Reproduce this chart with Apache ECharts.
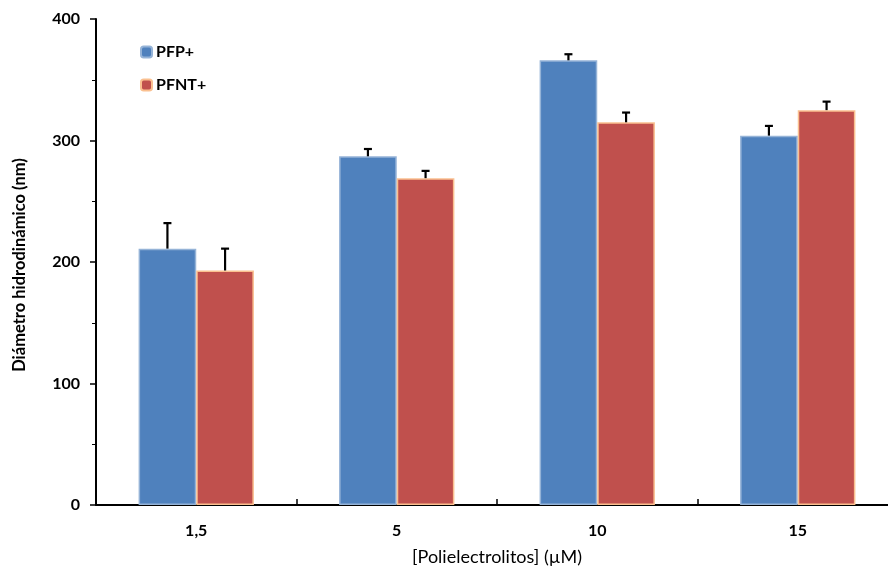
<!DOCTYPE html>
<html>
<head>
<meta charset="utf-8">
<script src="https://cdn.jsdelivr.net/npm/echarts@6/dist/echarts.min.js"></script>
<style>
  html, body { margin: 0; padding: 0; background: #fff; }
  #chart { width: 888px; height: 566px; }
</style>
</head>
<body>
<div id="chart"></div>
<script>
// Hydrodynamic diameter of polyelectrolyte aggregates vs concentration
const categories = ['1,5', '5', '10', '15'];
const pfpValues = [211, 287, 366, 304];
const pfpErrors = [21, 6, 5, 8];
const pfntValues = [193, 269, 315, 325];
const pfntErrors = [18, 6, 8, 7];
const yTicks = [0, 100, 200, 300, 400];
const xTitle = '[Polielectrolitos] (µM)';
const yTitle = 'Diámetro hidrodinámico (nm)';

const FONT = 'Lato';
const BAR_FRAC = 0.2875;   // bar width as a fraction of the category band

const chart = echarts.init(document.getElementById('chart'), null, { renderer: 'canvas' });

// Upward-only error whiskers, placed over the matching bar of each group
function errorSeries(name, values, errors, side) {
  return {
    type: 'custom',
    name: name + ' err',
    z: 5,
    data: values.map((v, i) => [i, v, v + errors[i]]),
    renderItem: function (params, api) {
      const band = api.size([1, 0])[0];
      const bw = band * BAR_FRAC;
      const base = api.coord([api.value(0), api.value(1)]);
      const top = api.coord([api.value(0), api.value(2)]);
      const x = base[0] + side * bw / 2;
      const cap = 4;
      const style = { stroke: '#000', lineWidth: 2.2 };
      return {
        type: 'group',
        children: [
          { type: 'line', shape: { x1: x, y1: base[1], x2: x, y2: top[1] }, style: style },
          { type: 'line', shape: { x1: x - cap, y1: top[1], x2: x + cap, y2: top[1] }, style: style }
        ]
      };
    }
  };
}

chart.setOption({
  backgroundColor: '#ffffff',
  animation: false,
  grid: {
    left: 96, top: 19, width: 802, height: 486,
    containLabel: false, outerBoundsMode: 'none'
  },
  legend: {
    left: 140, top: 44, padding: 0, orient: 'vertical', itemGap: 17,
    itemWidth: 11, itemHeight: 11,
    data: ['PFP+', 'PFNT+'],
    textStyle: { fontFamily: FONT, fontWeight: 'bold', fontSize: 16, color: '#000', padding: [0, 0, 0, -1] }
  },
  // Rotated y-axis title
  graphic: [{
    type: 'text',
    x: 20, y: 265, rotation: Math.PI / 2,
    style: {
      text: yTitle, fontFamily: FONT, fontWeight: 'bold', fontSize: 16.5, fill: '#000',
      align: 'center', verticalAlign: 'middle'
    }
  }],
  xAxis: {
    type: 'category',
    data: categories,
    name: xTitle,
    nameLocation: 'middle',
    nameGap: 43,
    nameTextStyle: { fontFamily: FONT, fontSize: 18, color: '#000' },
    axisLine: { lineStyle: { color: '#000', width: 2 } },
    axisTick: { show: true, inside: true, length: 6, lineStyle: { color: '#000', width: 1.5 } },
    axisLabel: { fontFamily: FONT, fontWeight: 'bold', fontSize: 16, color: '#000', margin: 18 }
  },
  yAxis: {
    type: 'value',
    min: yTicks[0], max: yTicks[yTicks.length - 1], interval: 100,
    axisLine: { show: true, lineStyle: { color: '#000', width: 2 } },
    axisTick: { show: true, length: 6, lineStyle: { color: '#000', width: 1.5 } },
    minorTick: { show: true, splitNumber: 2, length: 4, lineStyle: { color: '#000', width: 1 } },
    splitLine: { show: false },
    axisLabel: { fontFamily: FONT, fontWeight: 'bold', fontSize: 16, color: '#000', margin: 16 }
  },
  series: [
    {
      name: 'PFP+', type: 'bar', data: pfpValues,
      barGap: '0%', barCategoryGap: '42.5%',
      itemStyle: { color: '#4F81BD', borderColor: '#95B3D7', borderWidth: 1.5 }
    },
    {
      name: 'PFNT+', type: 'bar', data: pfntValues,
      itemStyle: { color: '#C0504D', borderColor: '#FAC090', borderWidth: 1.5 }
    },
    errorSeries('PFP+', pfpValues, pfpErrors, -1),
    errorSeries('PFNT+', pfntValues, pfntErrors, 1)
  ]
});
</script>
</body>
</html>
